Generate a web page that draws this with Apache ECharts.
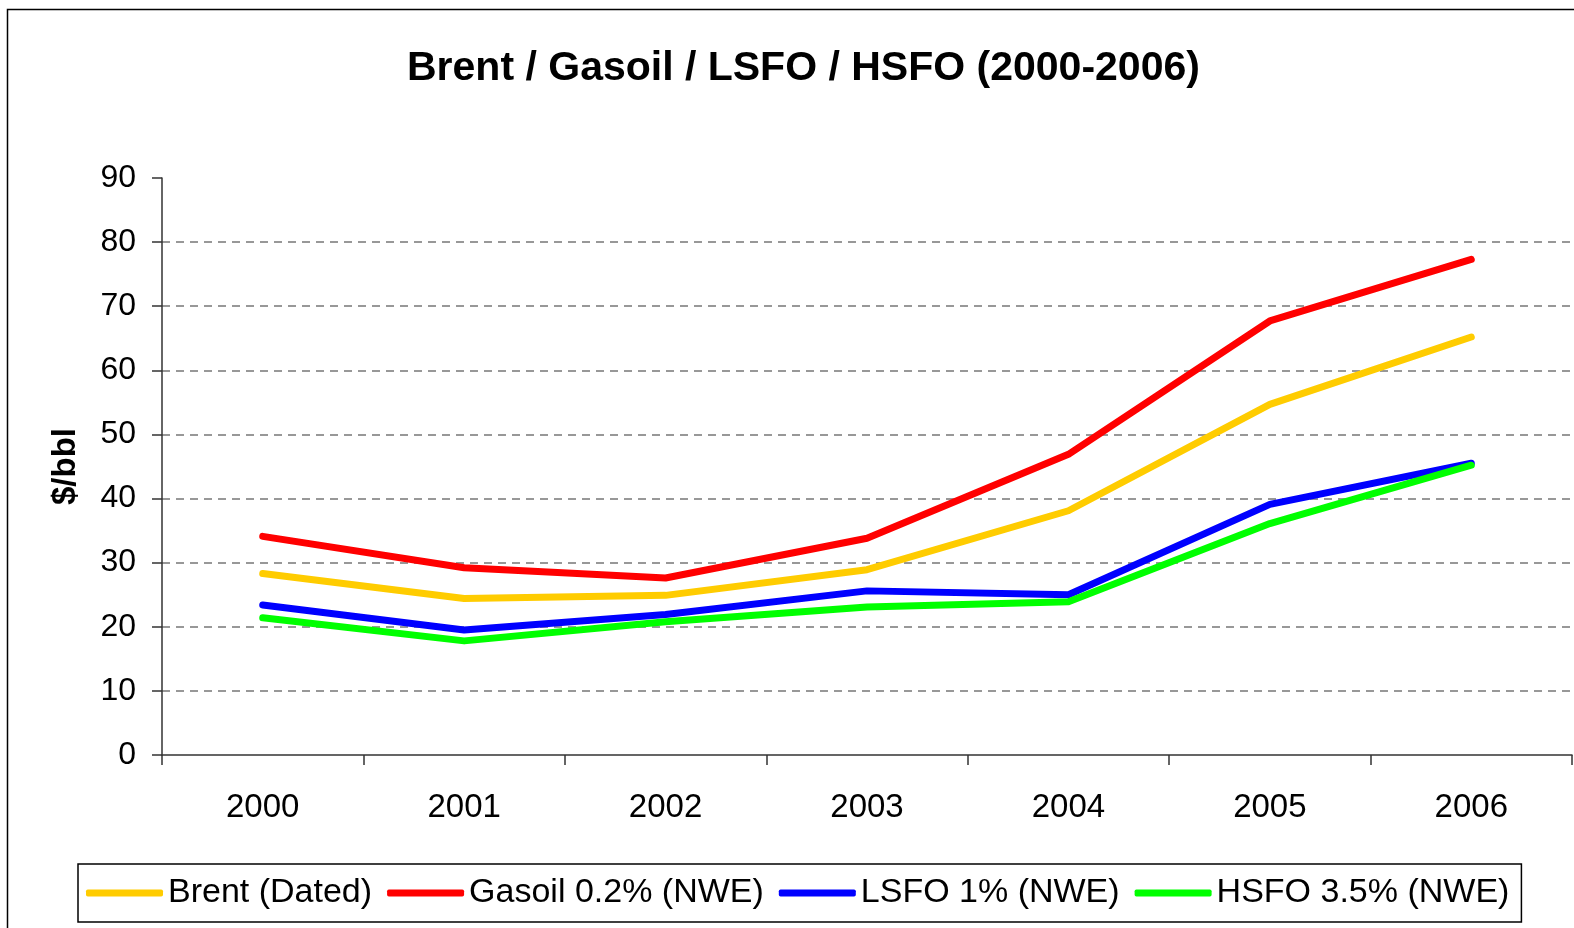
<!DOCTYPE html>
<html>
<head>
<meta charset="utf-8">
<title>Brent / Gasoil / LSFO / HSFO (2000-2006)</title>
<script src="https://cdn.jsdelivr.net/npm/echarts@6/dist/echarts.min.js"></script>
<style>
  html, body { margin: 0; padding: 0; background: #fff; }
  #main { width: 1574px; height: 928px; }
</style>
</head>
<body>
<div id="main"></div>
<script>
// data ($/bbl, yearly averages)
const years = ['2000', '2001', '2002', '2003', '2004', '2005', '2006'];
const brent = [28.3, 24.4, 24.9, 28.9, 38.1, 54.7, 65.2];
const gasoil = [34.1, 29.2, 27.6, 33.8, 46.9, 67.7, 77.3];
const lsfo = [23.4, 19.5, 21.9, 25.6, 25.0, 39.1, 45.5];
const hsfo = [21.4, 17.8, 20.8, 23.1, 23.9, 36.1, 45.2];
const yTicks = [0, 10, 20, 30, 40, 50, 60, 70, 80, 90];

const font = "'Liberation Sans', Arial, sans-serif";

function line(name, data, color) {
  return {
    name: name,
    type: 'line',
    data: data,
    symbol: 'none',
    showSymbol: false,
    itemStyle: { color: color },
    lineStyle: { color: color, width: 7, cap: 'round', join: 'round' }
  };
}

const chart = echarts.init(document.getElementById('main'));
const option = {
  backgroundColor: '#fff',
  animation: false,
  textStyle: { fontFamily: font },
  title: {
    text: 'Brent / Gasoil / LSFO / HSFO (2000-2006)',
    left: 402,
    top: 43,
    textStyle: { fontFamily: font, fontSize: 41, fontWeight: 'bold', color: '#000' }
  },
  graphic: [{
    type: 'rect',
    silent: true,
    shape: { x: 7.5, y: 9.5, width: 1700, height: 1100 },
    style: { fill: 'none', stroke: '#000', lineWidth: 1.5 }
  }],
  legend: {
    left: 78,
    top: 864,
    padding: [12, 12, 12, 8],
    itemGap: 15,
    itemWidth: 77,
    itemHeight: 7,
    icon: 'roundRect',
    borderColor: '#000',
    borderWidth: 1.5,
    textStyle: { fontFamily: font, fontSize: 34, color: '#000' }
  },
  grid: { left: 162, right: 2, top: 178, bottom: 173 },
  xAxis: {
    type: 'category',
    data: years,
    boundaryGap: true,
    axisLine: { lineStyle: { color: '#333', width: 1.5 } },
    axisTick: { show: true, length: 10, lineStyle: { color: '#333', width: 1.5 } },
    axisLabel: { margin: 36, fontSize: 33, color: '#000', fontFamily: font }
  },
  yAxis: {
    type: 'value',
    min: yTicks[0],
    max: yTicks[yTicks.length - 1],
    interval: 10,
    name: '$/bbl',
    nameLocation: 'middle',
    nameRotate: 90,
    nameGap: 80,
    nameTextStyle: { fontFamily: font, fontSize: 33, fontWeight: 'bold', color: '#000' },
    axisLine: { show: true, lineStyle: { color: '#333', width: 1.5 } },
    axisTick: { show: true, length: 10, lineStyle: { color: '#333', width: 1.5 } },
    axisLabel: { margin: 26, fontSize: 32, color: '#000', fontFamily: font },
    splitLine: {
      show: true,
      showMinLine: false,
      showMaxLine: false,
      lineStyle: { color: '#777', width: 1.5, type: [8, 6] }
    }
  },
  series: [
    line('Brent (Dated)', brent, '#FFCC00'),
    line('Gasoil 0.2% (NWE)', gasoil, '#FF0000'),
    line('LSFO 1% (NWE)', lsfo, '#0000FF'),
    line('HSFO 3.5% (NWE)', hsfo, '#00FF00')
  ]
};
chart.setOption(option);
</script>
</body>
</html>
